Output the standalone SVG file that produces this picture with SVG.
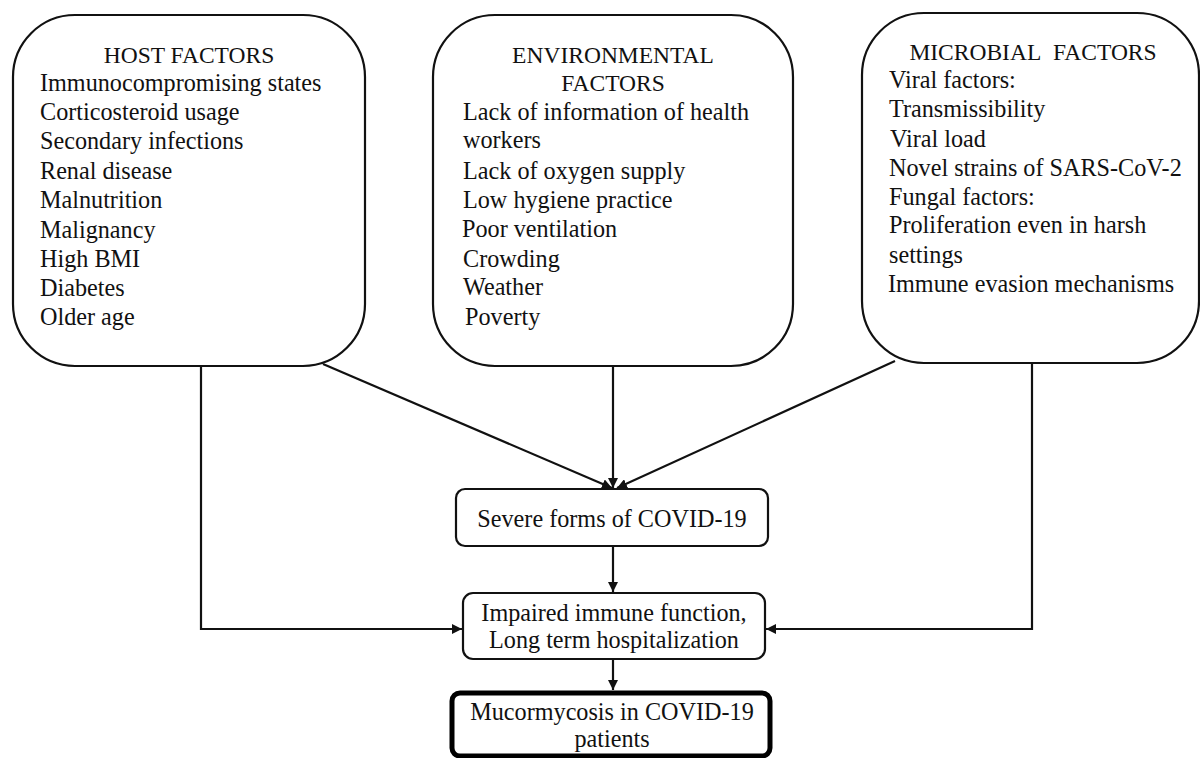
<svg xmlns="http://www.w3.org/2000/svg" width="1200" height="758" viewBox="0 0 1200 758">
<style>
text{font-family:"Liberation Serif","Times New Roman",serif;font-size:24.2px;fill:#111}
.t{font-size:23.5px}
.c{text-anchor:middle}
.box{fill:#fff;stroke:#111;stroke-width:2.2}
.thick{fill:#fff;stroke:#000;stroke-width:5}
.ln{fill:none;stroke:#111;stroke-width:2.2}
</style>
<defs>
<marker id="ah" viewBox="0 0 10 10" refX="10" refY="5" markerWidth="10" markerHeight="10" markerUnits="userSpaceOnUse" orient="auto">
<path d="M0,0 L10,5 L0,10 Z" fill="#111"/>
</marker>
</defs>
<g id="connectors">
<path class="ln" d="M201,366 V629 H462" marker-end="url(#ah)"/>
<path class="ln" d="M323,364 L612,488" marker-end="url(#ah)"/>
<path class="ln" d="M613,366 V488" marker-end="url(#ah)"/>
<path class="ln" d="M895,361 L617,488" marker-end="url(#ah)"/>
<path class="ln" d="M1032,363 V629 H766" marker-end="url(#ah)"/>
<path class="ln" d="M613,546 V592" marker-end="url(#ah)"/>
<path class="ln" d="M613,659 V690" marker-end="url(#ah)"/>
</g>
<g id="host">
<rect class="box" x="13" y="15" width="352" height="351" rx="62"/>
<text class="c t" x="189" y="63">HOST FACTORS</text>
<text x="40" y="91">Immunocompromising states</text>
<text x="40" y="120">Corticosteroid usage</text>
<text x="40" y="149">Secondary infections</text>
<text x="40" y="179">Renal disease</text>
<text x="40" y="208">Malnutrition</text>
<text x="40" y="238">Malignancy</text>
<text x="40" y="267">High BMI</text>
<text x="40" y="296">Diabetes</text>
<text x="40" y="325">Older age</text>
</g>
<g id="environmental">
<rect class="box" x="433" y="15" width="360" height="351" rx="62"/>
<text class="c t" x="613" y="63">ENVIRONMENTAL</text>
<text class="c t" x="613" y="91">FACTORS</text>
<text x="463" y="120">Lack of information of health</text>
<text x="463" y="148">workers</text>
<text x="463" y="179">Lack of oxygen supply</text>
<text x="463" y="208">Low hygiene practice</text>
<text x="462" y="237">Poor ventilation</text>
<text x="463" y="267">Crowding</text>
<text x="463" y="295">Weather</text>
<text x="465" y="325">Poverty</text>
</g>
<g id="microbial">
<rect class="box" x="862" y="13" width="337" height="350" rx="62"/>
<text class="c t" x="1033" y="60">MICROBIAL&#160; FACTORS</text>
<text x="889" y="88">Viral factors:</text>
<text x="889" y="117">Transmissibility</text>
<text x="890" y="147">Viral load</text>
<text x="889" y="176">Novel strains of SARS-CoV-2</text>
<text x="889" y="205">Fungal factors:</text>
<text x="889" y="233">Proliferation even in harsh</text>
<text x="889" y="263">settings</text>
<text x="888" y="292">Immune evasion mechanisms</text>
</g>
<g id="severe">
<rect class="box" x="456" y="489" width="312" height="57" rx="9"/>
<text class="c" x="612" y="527">Severe forms of COVID-19</text>
</g>
<g id="impaired">
<rect class="box" x="463" y="593" width="302" height="66" rx="10"/>
<text class="c" x="614" y="621">Impaired immune function,</text>
<text class="c" x="614" y="648">Long term hospitalization</text>
</g>
<g id="mucormycosis">
<rect class="thick" x="452" y="693" width="318" height="63" rx="8"/>
<text class="c" x="612" y="720">Mucormycosis in COVID-19</text>
<text class="c" x="612" y="747">patients</text>
</g>
</svg>
